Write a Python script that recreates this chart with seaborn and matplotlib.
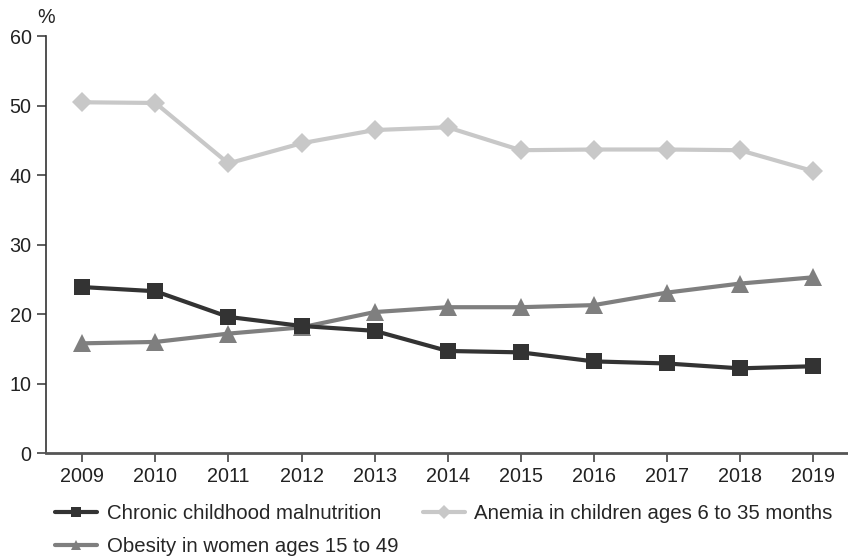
import pandas as pd
import matplotlib.pyplot as plt
import seaborn as sns

years = list(range(2009, 2020))
malnutrition = [23.9, 23.3, 19.6, 18.3, 17.6, 14.7, 14.5, 13.2, 12.9, 12.2, 12.5]
anemia = [50.5, 50.4, 41.7, 44.6, 46.5, 46.9, 43.6, 43.7, 43.7, 43.6, 40.6]
obesity = [15.8, 16.0, 17.2, 18.1, 20.3, 21.0, 21.0, 21.3, 23.1, 24.4, 25.3]
labels = ['Chronic childhood malnutrition', 'Anemia in children ages 6 to 35 months',
          'Obesity in women ages 15 to 49']

sns.set_style('white')
plt.rcParams['font.family'] = ['Liberation Sans', 'DejaVu Sans']
fs = 14.2

fig = plt.figure(figsize=(8.48, 5.58), dpi=100)
ax = fig.add_axes([0.054, 0.188, 0.946, 0.747])

styles = [('#333333', 's', 11.5), ('#c8c8c8', 'D', 10.5), ('#7f7f7f', '^', 13)]
for vals, lab, (col, mk, ms) in zip([malnutrition, anemia, obesity], labels, styles):
    df = pd.DataFrame({'year': years, 'value': vals})
    sns.lineplot(data=df, x='year', y='value', ax=ax, color=col, marker=mk,
                 markersize=ms, markeredgewidth=0, linewidth=3, label=lab)

# malnutrition drawn above obesity
ax.lines[0].set_zorder(4)

ax.set_xlim(2008.5, 2019.48)
ax.set_ylim(0, 60)
ax.set_xticks(years)
ax.set_yticks(range(0, 61, 10))
ax.set_xlabel('')
ax.set_ylabel('')
for s in ['top', 'right']:
    ax.spines[s].set_visible(False)
ax.spines['left'].set_color('#333333')
ax.spines['left'].set_linewidth(1.2)
ax.spines['bottom'].set_color('#555555')
ax.spines['bottom'].set_linewidth(2)
ax.tick_params(axis='both', direction='out', length=6.2, width=1.1, color='#333333',
               labelsize=fs, labelcolor='#222222', left=True, bottom=True)
ax.tick_params(axis='x', pad=3.5)
ax.tick_params(axis='y', pad=4)
fig.text(46 / 848, 1 - 17.5 / 558, '%', fontsize=fs, color='#222222', ha='center', va='center')

h, l = ax.get_legend_handles_labels()
order = [0, 2, 1]
leg = ax.legend([h[i] for i in order], [l[i] for i in order], loc='upper left',
                bbox_to_anchor=(41 / 848, 1 - 490 / 558), bbox_transform=fig.transFigure,
                ncol=2, frameon=False, fontsize=14.7, handlelength=2.06, columnspacing=1.2,
                labelspacing=0.66, handletextpad=0.45, borderaxespad=0.3)
for line in leg.get_lines():
    line.set_markersize(7)

fig.savefig('out.png', dpi=100)
